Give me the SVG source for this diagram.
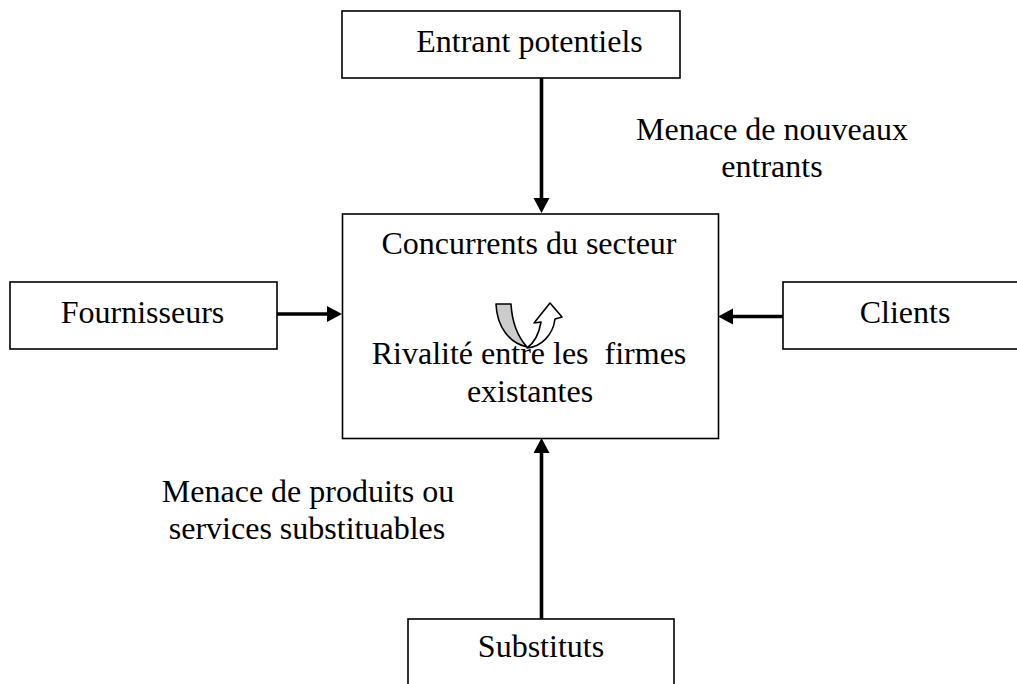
<svg xmlns="http://www.w3.org/2000/svg" width="1017" height="684" viewBox="0 0 1017 684">
<style>
.box{fill:#fff;stroke:#000;stroke-width:1.6}
.t{font-family:"Liberation Serif","Times New Roman",serif;font-size:32px;fill:#000;text-anchor:middle}
.conn{stroke:#000;stroke-width:3.6;fill:none}
.sym{stroke:#000;stroke-width:1.6;stroke-linejoin:round}
</style>
<defs>
<marker id="ah" markerUnits="userSpaceOnUse" markerWidth="16" markerHeight="17" refX="0" refY="8" orient="auto" viewBox="0 0 16 17">
<path d="M0,0 L15,8 L0,16 Z" fill="#000"/>
</marker>
</defs>
<rect width="1017" height="684" fill="#fff"/>
<g id="connectors">
<line class="conn" x1="541.5" y1="78" x2="541.5" y2="198" marker-end="url(#ah)"/>
<line class="conn" x1="277" y1="314" x2="327" y2="314" marker-end="url(#ah)"/>
<line class="conn" x1="783" y1="316.5" x2="733" y2="316.5" marker-end="url(#ah)"/>
<line class="conn" x1="541.5" y1="619" x2="541.5" y2="453" marker-end="url(#ah)"/>
</g>
<g id="entrants">
<rect class="box" x="342" y="11" width="338" height="67"/>
<text class="t" x="529.5" y="52">Entrant potentiels</text>
</g>
<g id="concurrents">
<rect class="box" x="342.5" y="214" width="376" height="224.5"/>
<text class="t" x="529" y="254">Concurrents du secteur</text>
<text class="t" x="529" y="364" xml:space="preserve">Rivalité entre les  firmes</text>
<text class="t" x="530" y="402">existantes</text>
<g id="rivalry-arrow">
<path class="sym" fill="#cccccc" d="M496,304 L511,304 C512,322 518,337 527,347 C510,343 497,328 496,304 Z"/>
<path class="sym" fill="#fff" d="M527,348 C541,347 553,335 555,319 L562,317 L550,303 L534,323 L541,322 C539,334 534,343 527,348 Z"/>
</g>
</g>
<g id="fournisseurs">
<rect class="box" x="10" y="282" width="267" height="67"/>
<text class="t" x="142.5" y="323">Fournisseurs</text>
</g>
<g id="clients">
<rect class="box" x="783" y="282" width="240" height="67"/>
<text class="t" x="905" y="323">Clients</text>
</g>
<g id="substituts">
<rect class="box" x="408" y="619" width="266" height="80"/>
<text class="t" x="541" y="657">Substituts</text>
</g>
<g id="labels">
<text class="t" x="772" y="140">Menace de nouveaux</text>
<text class="t" x="772" y="177">entrants</text>
<text class="t" x="308" y="502">Menace de produits ou</text>
<text class="t" x="307" y="539">services substituables</text>
</g>
</svg>
